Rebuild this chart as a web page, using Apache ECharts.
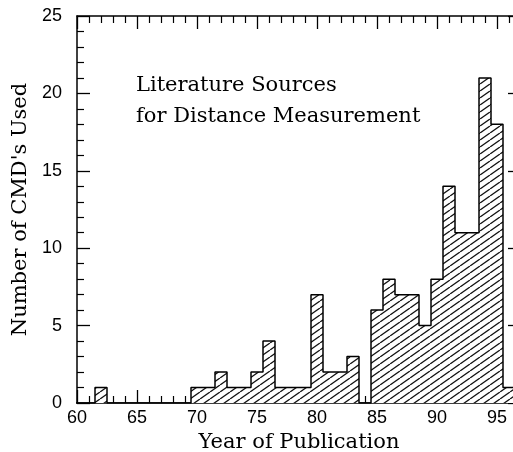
<!DOCTYPE html>
<html>
<head>
<meta charset="utf-8">
<script src="https://cdn.jsdelivr.net/npm/echarts@6/dist/echarts.min.js"></script>
<style>
  html, body { margin: 0; padding: 0; background: #fff; }
  #main { width: 513px; height: 452px; }
</style>
</head>
<body>
<div id="main"></div>
<script>
// publication year (19xx) and number of CMDs per year
const years = [60, 61, 62, 63, 64, 65, 66, 67, 68, 69, 70, 71, 72, 73, 74, 75, 76, 77, 78,
  79, 80, 81, 82, 83, 84, 85, 86, 87, 88, 89, 90, 91, 92, 93, 94, 95, 96];
const counts = [0, 0, 1, 0, 0, 0, 0, 0, 0, 0, 1, 1, 2, 1, 1, 2, 4, 1, 1,
  1, 7, 2, 2, 3, 0, 6, 8, 7, 7, 5, 8, 14, 11, 11, 21, 18, 1];
const noteLines = ['Literature Sources', 'for Distance Measurement'];

// diagonal hatch tile
function hatchTile() {
  const w = 10, h = 6.5;
  const c = document.createElement('canvas');
  c.width = w; c.height = Math.round(h);
  const ctx = c.getContext('2d');
  ctx.fillStyle = '#fff';
  ctx.fillRect(0, 0, c.width, c.height);
  ctx.strokeStyle = '#111';
  ctx.lineWidth = 1.3;
  for (let k = -1; k <= 1; k++) {
    ctx.beginPath();
    ctx.moveTo(k * w, c.height);
    ctx.lineTo(k * w + w, 0);
    ctx.stroke();
  }
  return c;
}
const hatch = { image: hatchTile(), repeat: 'repeat' };

const barData = years.map((y, i) => [y, counts[i]]);
const outline = [];
years.forEach((y, i) => {
  outline.push([y - 0.5, counts[i]]);
  outline.push([y + 0.5, counts[i]]);
});

const serif = 'DejaVu Serif';
const sans = 'Liberation Sans';

function xAx(pos, labels) {
  return {
    type: 'value', position: pos, min: 60, max: 97, interval: 5,
    name: labels ? 'Year of Publication' : '',
    nameLocation: 'middle', nameGap: 25,
    nameTextStyle: { fontFamily: serif, fontSize: 21, color: '#000' },
    axisLine: { show: true, onZero: false, lineStyle: { color: '#000', width: 1.5 } },
    axisTick: { show: true, inside: true, length: 13, lineStyle: { color: '#000', width: 1.3 } },
    minorTick: { show: true, splitNumber: 5, length: 7, lineStyle: { color: '#000', width: 1.2 } },
    axisLabel: { show: labels, color: '#000', fontFamily: sans, fontSize: 18, margin: 6,
      showMinLabel: true, showMaxLabel: false },
    splitLine: { show: false }
  };
}
function yAx(pos, labels) {
  return {
    type: 'value', position: pos, min: 0, max: 25, interval: 5,
    name: labels ? "Number of CMD's Used" : '',
    nameLocation: 'middle', nameGap: 45,
    nameTextStyle: { fontFamily: serif, fontSize: 21, color: '#000' },
    axisLine: { show: true, onZero: false, lineStyle: { color: '#000', width: 1.5 } },
    axisTick: { show: true, inside: true, length: 13, lineStyle: { color: '#000', width: 1.3 } },
    minorTick: { show: true, splitNumber: 5, length: 7, lineStyle: { color: '#000', width: 1.2 } },
    axisLabel: { show: labels, color: '#000', fontFamily: sans, fontSize: 18, margin: 15 },
    splitLine: { show: false }
  };
}

const chart = echarts.init(document.getElementById('main'));
chart.setOption({
  backgroundColor: '#fff',
  animation: false,
  grid: { left: 77, right: -8, top: 16, bottom: 49, outerBoundsMode: 'none', containLabel: false },
  xAxis: [xAx('bottom', true), xAx('top', false)],
  yAxis: [yAx('left', true), yAx('right', false)],
  graphic: noteLines.map((t, i) => ({
    type: 'text', left: 136, top: 75 + i * 31,
    style: { text: t, font: '21px "DejaVu Serif"', fill: '#000' }
  })),
  series: [
    {
      type: 'custom',
      xAxisIndex: 0, yAxisIndex: 0,
      data: barData,
      renderItem: function (params, api) {
        const x = api.value(0), v = api.value(1);
        if (!v) return null;
        const p0 = api.coord([x - 0.5, v]);
        const p1 = api.coord([x + 0.5, 0]);
        return {
          type: 'rect',
          shape: { x: p0[0], y: p0[1], width: p1[0] - p0[0], height: p1[1] - p0[1] },
          style: { fill: hatch, stroke: null }
        };
      }
    },
    {
      type: 'line',
      xAxisIndex: 0, yAxisIndex: 0,
      data: outline,
      symbol: 'none',
      lineStyle: { color: '#000', width: 1.5 }
    }
  ]
});
</script>
</body>
</html>
